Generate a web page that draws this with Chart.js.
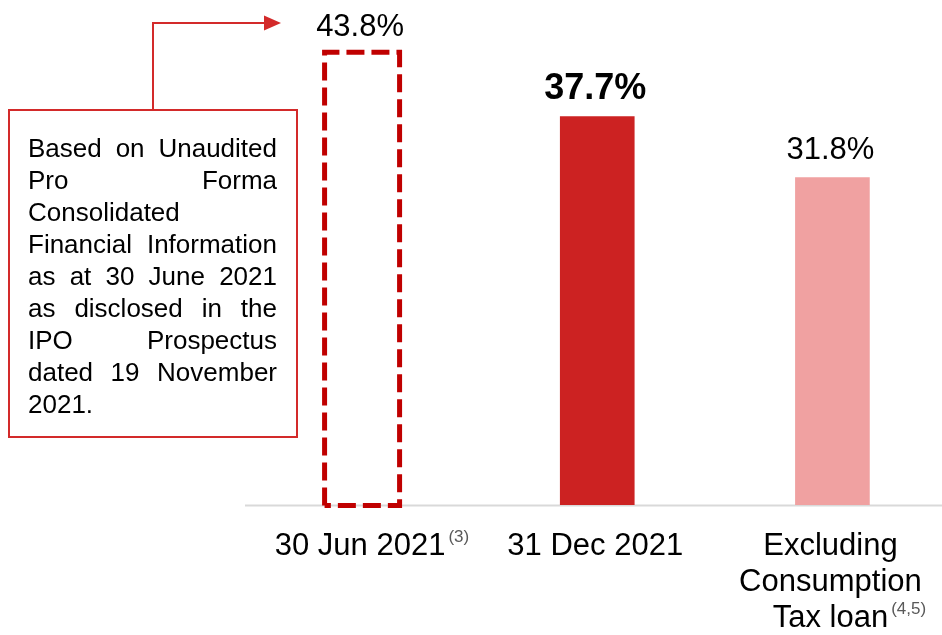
<!DOCTYPE html>
<html>
<head>
<meta charset="utf-8">
<script src="https://cdn.jsdelivr.net/npm/chart.js@4.4.1/dist/chart.umd.min.js"></script>
<style>
  html, body { margin: 0; padding: 0; background: #fff; overflow: hidden; }
  #wrap { width: 950px; height: 635px; position: relative; }
</style>
</head>
<body>
<div id="wrap"><canvas id="ratioChart"></canvas></div>
<script>
// данные графика
const categories = ['30 Jun 2021', '31 Dec 2021', 'Excluding Consumption Tax loan'];
const categoryLines = [['30 Jun 2021'], ['31 Dec 2021'], ['Excluding', 'Consumption', 'Tax loan']];
const footnotes = ['(3)', '', '(4,5)'];
const ratios = [43.8, 37.7, 31.8];
const valueLabels = ['43.8%', '37.7%', '31.8%'];
const barColors = ['rgba(0,0,0,0)', '#CC2222', '#F0A1A1'];
const noteLines = [
  'Based on Unaudited',
  'Pro Forma',
  'Consolidated',
  'Financial Information',
  'as at 30 June 2021',
  'as disclosed in the',
  'IPO Prospectus',
  'dated 19 November',
  '2021.'
];

const FONT = "'Liberation Sans', Arial, sans-serif";

function drawJustified(ctx, text, left, right, y, justify) {
  const words = text.split(' ');
  if (!justify || words.length < 2) {
    ctx.textAlign = 'left';
    ctx.fillText(text, left, y);
    return;
  }
  const widths = words.map(w => ctx.measureText(w).width);
  const total = widths.reduce((a, b) => a + b, 0);
  const gap = (right - left - total) / (words.length - 1);
  let x = left;
  ctx.textAlign = 'left';
  words.forEach((w, i) => {
    ctx.fillText(w, x, y);
    x += widths[i] + gap;
  });
}

const overlay = {
  id: 'overlay',
  beforeDatasetsDraw(chart) {
    const ctx = chart.ctx;
    const y0 = chart.scales.y.getPixelForValue(0);
    ctx.save();
    ctx.strokeStyle = '#D9D9D9';
    ctx.lineWidth = 2;
    ctx.beginPath();
    ctx.moveTo(245, y0 + 0.5);
    ctx.lineTo(942, y0 + 0.5);
    ctx.stroke();
    ctx.restore();
  },
  afterDatasetsDraw(chart) {
    const ctx = chart.ctx;
    const bars = chart.getDatasetMeta(0).data;

    // пунктирный контур первого столбца
    const b0 = bars[0];
    const l = b0.x - 37.5, r = b0.x + 37.5, t = b0.y - 1.5, bt = b0.base + 0.5;
    ctx.save();
    ctx.strokeStyle = '#C00000';
    ctx.lineWidth = 5;
    ctx.setLineDash([18, 7]);
    ctx.beginPath();
    ctx.moveTo(l, bt);
    ctx.lineTo(l, t);
    ctx.lineTo(r, t);
    ctx.lineTo(r, bt);
    ctx.lineTo(l, bt);
    ctx.stroke();
    ctx.restore();

    // подписи значений
    ctx.save();
    ctx.fillStyle = '#000';
    ctx.textAlign = 'center';
    ctx.textBaseline = 'alphabetic';
    bars.forEach((bar, i) => {
      ctx.font = (i === 1 ? 'bold 36px ' : '31px ') + FONT;
      ctx.fillText(valueLabels[i], bar.x - 2, bar.y - 18);
    });

    // подписи категорий
    bars.forEach((bar, i) => {
      const lines = categoryLines[i];
      lines.forEach((line, j) => {
        const y = 555 + j * 36;
        ctx.font = '31px ' + FONT;
        ctx.fillStyle = '#000';
        ctx.textAlign = 'center';
        ctx.fillText(line, bar.x - 2, y);
        if (j === lines.length - 1 && footnotes[i]) {
          const w = ctx.measureText(line).width;
          ctx.font = '17px ' + FONT;
          ctx.fillStyle = '#595959';
          ctx.textAlign = 'left';
          ctx.fillText(footnotes[i], bar.x - 2 + w / 2 + 3, y - 13);
        }
      });
    });
    ctx.restore();

    // пояснение в рамке
    ctx.save();
    ctx.strokeStyle = '#D32A2A';
    ctx.lineWidth = 2;
    ctx.strokeRect(9, 110, 288, 327);
    ctx.beginPath();
    ctx.moveTo(153, 110);
    ctx.lineTo(153, 23);
    ctx.lineTo(266, 23);
    ctx.stroke();
    ctx.fillStyle = '#D32A2A';
    ctx.beginPath();
    ctx.moveTo(264, 15.5);
    ctx.lineTo(281, 23);
    ctx.lineTo(264, 30.5);
    ctx.closePath();
    ctx.fill();

    ctx.fillStyle = '#000';
    ctx.font = '26px ' + FONT;
    noteLines.forEach((line, i) => {
      drawJustified(ctx, line, 28, 277, 157 + i * 32, i < noteLines.length - 1);
    });
    ctx.restore();
  }
};

const ctx = document.getElementById('ratioChart').getContext('2d');
new Chart(ctx, {
  type: 'bar',
  data: {
    labels: categories,
    datasets: [{
      data: ratios,
      backgroundColor: barColors,
      borderWidth: 0,
      barThickness: 74,
      categoryPercentage: 1
    }]
  },
  options: {
    responsive: true,
    maintainAspectRatio: false,
    animation: false,
    layout: { padding: { left: 244.5, right: 0, top: 41.5, bottom: 130 } },
    plugins: { legend: { display: false }, tooltip: { enabled: false } },
    scales: {
      x: { display: false },
      y: { display: false, min: 0, max: 45 }
    }
  },
  plugins: [overlay]
});
</script>
</body>
</html>
